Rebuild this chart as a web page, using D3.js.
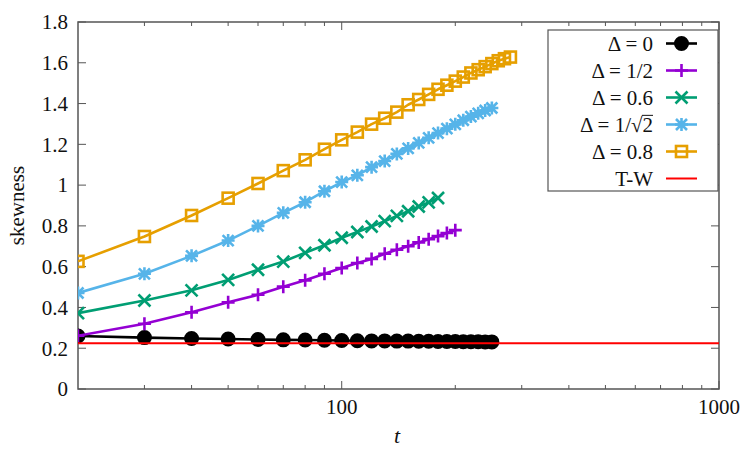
<!DOCTYPE html>
<html>
<head>
<meta charset="utf-8">
<script src="https://cdn.jsdelivr.net/npm/d3@7"></script>
<style>
  body { margin: 0; background: #fff; }
</style>
</head>
<body>
<div id="chart"></div>
<script>
// data
const tBlack  = [20,30,40,50,60,70,80,90,100,110,120,130,140,150,160,170,180,190,200,210,220,230,240,250];
const d0      = [0.26,0.252,0.248,0.245,0.243,0.241,0.240,0.239,0.238,0.237,0.236,0.236,0.235,0.235,0.234,0.234,0.233,0.233,0.233,0.232,0.232,0.232,0.231,0.231];
const tPurple = [20,30,40,50,60,70,80,90,100,110,120,130,140,150,160,170,180,190,200];
const dHalf   = [0.261,0.32,0.376,0.425,0.462,0.502,0.533,0.565,0.593,0.618,0.638,0.663,0.683,0.70,0.719,0.735,0.75,0.765,0.779];
const tGreen  = [20,30,40,50,60,70,80,90,100,110,120,130,140,150,160,170,180];
const d06     = [0.372,0.434,0.484,0.535,0.585,0.625,0.668,0.705,0.742,0.77,0.797,0.823,0.849,0.872,0.895,0.915,0.937];
const tCyan   = [20,30,40,50,60,70,80,90,100,110,120,130,140,150,160,170,180,190,200,210,220,230,240,250];
const dSqrt   = [0.471,0.565,0.653,0.728,0.80,0.864,0.916,0.97,1.015,1.048,1.088,1.118,1.153,1.18,1.207,1.232,1.255,1.277,1.298,1.318,1.336,1.352,1.366,1.378];
const tOrange = [20,30,40,50,60,70,80,90,100,110,120,130,140,150,160,170,180,190,200,210,220,230,240,250,260,270,280];
const d08     = [0.626,0.748,0.851,0.936,1.008,1.071,1.124,1.176,1.222,1.26,1.299,1.328,1.358,1.394,1.42,1.445,1.47,1.49,1.51,1.53,1.55,1.566,1.581,1.596,1.61,1.62,1.628];
const tracyWidom = 0.2241;

const yTicks = [0,0.2,0.4,0.6,0.8,1,1.2,1.4,1.6,1.8];
const xMajor = [100,1000];
const xMinor = [30,40,50,60,70,80,90,200,300,400,500,600,700,800,900];

const width = 750, height = 450;
const padL = 78, padR = 719, padT = 22, padB = 389;
const serif = '"Liberation Serif", "Times New Roman", Tinos, "DejaVu Serif", serif';

const x = d3.scaleLog().domain([20,1000]).range([padL,padR]);
const y = d3.scaleLinear().domain([0,1.8]).range([padB,padT]);

const svg = d3.select('#chart').append('svg')
              .attr('width', width).attr('height', height)
              .attr('font-family', serif);

svg.append('defs').append('clipPath').attr('id','clip')
   .append('rect').attr('x', padL).attr('y', padT)
   .attr('width', padR-padL).attr('height', padB-padT);

// marker shapes
const shapes = {
  circle: g => g.append('circle').attr('r', 6.2).attr('fill', '#000'),
  plus:   g => g.append('path').attr('d','M-6.5,0H6.5M0,-6.5V6.5'),
  cross:  g => g.append('path').attr('d','M-6,-6L6,6M-6,6L6,-6'),
  star:   g => g.append('path').attr('d','M-6.5,0H6.5M0,-6.5V6.5M-5.5,-5.5L5.5,5.5M-5.5,5.5L5.5,-5.5'),
  square: g => g.append('rect').attr('x',-5.5).attr('y',-5.5).attr('width',11).attr('height',11).attr('fill','none')
};

const series = [
  {t: tBlack,  v: d0,    color: '#000000', shape: 'circle', label: 'Δ = 0'},
  {t: tPurple, v: dHalf, color: '#9400d3', shape: 'plus',   label: 'Δ = 1/2'},
  {t: tGreen,  v: d06,   color: '#009e73', shape: 'cross',  label: 'Δ = 0.6'},
  {t: tCyan,   v: dSqrt, color: '#56b4e9', shape: 'star',   label: 'Δ = 1/√2'},
  {t: tOrange, v: d08,   color: '#e69f00', shape: 'square', label: 'Δ = 0.8'}
];

function label(sel) {
  return sel.style('font-family', serif).attr('fill', '#111');
}

// axes (gnuplot style, ticks inward, mirrored)
const axisColor = '#555';
const ax = svg.append('g');
yTicks.forEach(v => {
  ax.append('line').attr('x1', padL).attr('x2', padL+8).attr('y1', y(v)).attr('y2', y(v))
    .attr('stroke', axisColor).attr('stroke-width', 1);
  ax.append('line').attr('x1', padR).attr('x2', padR-8).attr('y1', y(v)).attr('y2', y(v))
    .attr('stroke', axisColor).attr('stroke-width', 1);
  label(ax.append('text')).attr('x', padL-10).attr('y', y(v)).attr('dy','0.35em')
    .attr('text-anchor','end').style('font-size','21px').text(v);
});
xMajor.forEach(v => {
  ax.append('line').attr('x1', x(v)).attr('x2', x(v)).attr('y1', padB).attr('y2', padB-8)
    .attr('stroke', axisColor);
  ax.append('line').attr('x1', x(v)).attr('x2', x(v)).attr('y1', padT).attr('y2', padT+8)
    .attr('stroke', axisColor);
  label(ax.append('text')).attr('x', x(v)).attr('y', 414)
    .attr('text-anchor','middle').style('font-size','21px').text(v);
});
xMinor.forEach(v => {
  ax.append('line').attr('x1', x(v)).attr('x2', x(v)).attr('y1', padB).attr('y2', padB-4)
    .attr('stroke', axisColor);
  ax.append('line').attr('x1', x(v)).attr('x2', x(v)).attr('y1', padT).attr('y2', padT+4)
    .attr('stroke', axisColor);
});
ax.append('rect').attr('x', padL).attr('y', padT).attr('width', padR-padL).attr('height', padB-padT)
  .attr('fill','none').attr('stroke', axisColor).attr('stroke-width', 1.5);

label(svg.append('text')).attr('transform','translate(24,'+((padT+padB)/2)+') rotate(-90)')
   .attr('text-anchor','middle').style('font-size','21px').text('skewness');
label(svg.append('text')).attr('x', 397).attr('y', 443).attr('text-anchor','middle')
   .style('font-size','22px').style('font-style','italic').text('t');

// data
const plot = svg.append('g').attr('clip-path','url(#clip)');
const line = d3.line().x(d => x(d[0])).y(d => y(d[1]));
series.forEach(s => {
  const pts = s.t.map((t,i) => [t, s.v[i]]);
  const g = plot.append('g');
  g.append('path').datum(pts).attr('d', line)
   .attr('fill','none').attr('stroke', s.color).attr('stroke-width', 2.6)
   .style('stroke-linejoin','round');
  g.selectAll('g.m').data(pts).enter().append('g')
   .attr('transform', d => 'translate(' + x(d[0]) + ',' + y(d[1]) + ')')
   .each(function() {
     const m = d3.select(this).attr('stroke', s.color).attr('stroke-width', 2.6);
     shapes[s.shape](m);
   });
});
plot.append('line').attr('x1', padL).attr('x2', padR)
    .attr('y1', y(tracyWidom)).attr('y2', y(tracyWidom))
    .attr('stroke', '#ff0000').attr('stroke-width', 2);

// legend
const leg = svg.append('g');
leg.append('rect').attr('x', 548).attr('y', 30).attr('width', 170).attr('height', 161)
   .attr('fill','#fff').attr('stroke', axisColor).attr('stroke-width', 1.2);
const rowY = i => 43.5 + i*27;
series.forEach((s,i) => {
  const ty = rowY(i);
  const txt = label(leg.append('text')).attr('x', 653).attr('y', ty).attr('dy','0.35em')
     .attr('text-anchor','end').style('font-size','21px').text(s.label);
  leg.append('line').attr('x1', 666).attr('x2', 697).attr('y1', ty).attr('y2', ty)
     .attr('stroke', s.color).attr('stroke-width', 2.6);
  const m = leg.append('g').attr('transform','translate(681.5,' + ty + ')')
     .attr('stroke', s.color).attr('stroke-width', 2.6);
  shapes[s.shape](m);
  if (s.shape === 'star') {
    // vinculum over the 2 of the square root
    const tmp = label(leg.append('text')).style('font-size','21px').text('2');
    const w2 = tmp.node().getComputedTextLength();
    tmp.remove();
    const bb = txt.node().getBBox();
    leg.append('line').attr('x1', 653 - w2 - 0.5).attr('x2', 653)
       .attr('y1', bb.y + 2.5).attr('y2', bb.y + 2.5)
       .attr('stroke', '#111').attr('stroke-width', 1);
  }
});
const twY = rowY(5);
label(leg.append('text')).attr('x', 653).attr('y', twY).attr('dy','0.35em')
   .attr('text-anchor','end').style('font-size','21px').text('T-W');
leg.append('line').attr('x1', 666).attr('x2', 697).attr('y1', twY).attr('y2', twY)
   .attr('stroke', '#ff0000').attr('stroke-width', 2);
</script>
</body>
</html>
